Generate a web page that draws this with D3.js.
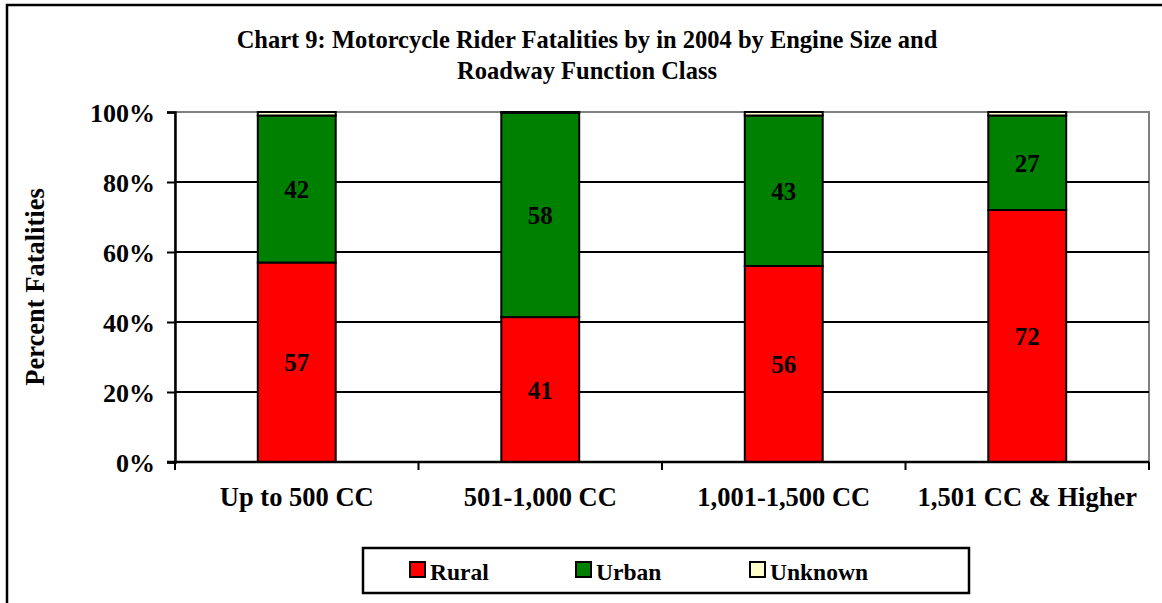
<!DOCTYPE html>
<html>
<head>
<meta charset="utf-8">
<script src="https://cdn.jsdelivr.net/npm/d3@7"></script>
<style>
  body { margin: 0; background: #fff; }
  text { font-family: "Liberation Serif", "Times New Roman", serif; font-weight: bold; }
</style>
</head>
<body>
<div id="chart"></div>
<script>
var categories = ["Up to 500 CC", "501-1,000 CC", "1,001-1,500 CC", "1,501 CC & Higher"];
var rural = [57, 41.4, 56, 72];
var urban = [42, 58.4, 43, 27];
var unknown = [1, 0.2, 1, 1];
var ruralLabels = ["57", "41", "56", "72"];
var urbanLabels = ["42", "58", "43", "27"];
var seriesNames = ["Rural", "Urban", "Unknown"];
var seriesColors = ["#ff0000", "#008000", "#ffffcc"];
var yTicks = [0, 0.2, 0.4, 0.6, 0.8, 1];

var width = 1162, height = 603;
var margin = {top: 112, right: 13, bottom: 141, left: 175};

var svg = d3.select("#chart").append("svg")
  .attr("width", width)
  .attr("height", height);

// outer frame (runs off the right/bottom edge like the original)
svg.append("rect")
  .attr("x", 7).attr("y", 5)
  .attr("width", 1170).attr("height", 620)
  .attr("fill", "none").attr("stroke", "#000").attr("stroke-width", 2.5);

svg.append("text")
  .attr("x", 587).attr("y", 48)
  .attr("text-anchor", "middle").style("font-size", "24.5px")
  .text("Chart 9: Motorcycle Rider Fatalities by in 2004 by Engine Size and");
svg.append("text")
  .attr("x", 587).attr("y", 79)
  .attr("text-anchor", "middle").style("font-size", "24.5px")
  .text("Roadway Function Class");

var x = d3.scaleBand()
  .domain(categories)
  .range([margin.left, width - margin.right])
  .paddingInner(0.68).paddingOuter(0.34);

var y = d3.scaleLinear()
  .domain([0, 1])
  .range([height - margin.bottom, margin.top]);

var g = svg.append("g");

// plot area border (grey)
g.append("rect")
  .attr("x", margin.left).attr("y", margin.top)
  .attr("width", width - margin.right - margin.left)
  .attr("height", y(0) - y(1))
  .attr("fill", "none").attr("stroke", "#808080").attr("stroke-width", 2);

// gridlines
g.selectAll(".grid")
  .data(yTicks.filter(function(d) { return d > 0 && d < 1; }))
  .enter().append("line")
  .attr("x1", margin.left).attr("x2", width - margin.right)
  .attr("y1", function(d) { return y(d); })
  .attr("y2", function(d) { return y(d); })
  .attr("stroke", "#000").attr("stroke-width", 2);

// stacked data
var rows = categories.map(function(c, i) {
  return {cat: c, Rural: rural[i] / 100, Urban: urban[i] / 100, Unknown: unknown[i] / 100};
});
var stack = d3.stack().keys(seriesNames)(rows);

stack.forEach(function(layer, si) {
  g.selectAll(".bar" + si)
    .data(layer)
    .enter().append("rect")
    .attr("x", function(d) { return x(d.data.cat); })
    .attr("y", function(d) { return y(d[1]); })
    .attr("width", x.bandwidth())
    .attr("height", function(d) { return y(d[0]) - y(d[1]); })
    .attr("fill", seriesColors[si])
    .attr("stroke", "#000").attr("stroke-width", 2);
});

// value labels
var labelSets = [ruralLabels, urbanLabels];
labelSets.forEach(function(labels, si) {
  g.selectAll(".lab" + si)
    .data(stack[si])
    .enter().append("text")
    .attr("x", function(d) { return x(d.data.cat) + x.bandwidth() / 2; })
    .attr("y", function(d) { return (y(d[0]) + y(d[1])) / 2 + 9; })
    .attr("text-anchor", "middle")
    .style("font-size", "25px")
    .text(function(d, i) { return labels[i]; });
});

// y axis
var yAxis = d3.axisLeft(y).tickValues(yTicks).tickFormat(d3.format(".0%")).tickSize(8).tickPadding(12);
var ya = svg.append("g").attr("transform", "translate(" + margin.left + ",0)").call(yAxis);
ya.select(".domain").attr("stroke", "#000").attr("stroke-width", 2.5);
ya.selectAll(".tick line").attr("stroke", "#000").attr("stroke-width", 2);
ya.selectAll("text").attr("fill", "#000").attr("dy", "0.35em")
  .style("font-size", "26px").style("font-family", "Liberation Serif").style("font-weight", "bold");

// x axis with ticks at category boundaries
var xa = svg.append("g").attr("transform", "translate(0," + y(0) + ")");
xa.append("line")
  .attr("x1", margin.left - 8).attr("x2", width - margin.right)
  .attr("stroke", "#000").attr("stroke-width", 2.5);
var step = x.step();
var bounds = d3.range(categories.length + 1).map(function(i) { return margin.left + i * step; });
xa.selectAll(".xt").data(bounds).enter().append("line")
  .attr("x1", function(d) { return d; }).attr("x2", function(d) { return d; })
  .attr("y1", 0).attr("y2", 8)
  .attr("stroke", "#000").attr("stroke-width", 2);
xa.selectAll(".xl").data(categories).enter().append("text")
  .attr("x", function(d) { return x(d) + x.bandwidth() / 2; })
  .attr("y", 44)
  .attr("text-anchor", "middle")
  .style("font-size", "26.5px")
  .text(function(d) { return d; });

// y axis title
svg.append("text")
  .attr("transform", "translate(44," + ((y(0) + y(1)) / 2) + ") rotate(-90)")
  .attr("text-anchor", "middle")
  .style("font-size", "26.5px")
  .text("Percent Fatalities");

// legend
var legend = svg.append("g");
legend.append("rect")
  .attr("x", 363).attr("y", 548).attr("width", 606).attr("height", 45)
  .attr("fill", "#fff").attr("stroke", "#000").attr("stroke-width", 2.5);
var legendX = [410, 576, 750];
seriesNames.forEach(function(name, i) {
  legend.append("rect")
    .attr("x", legendX[i]).attr("y", 562).attr("width", 15).attr("height", 15)
    .attr("fill", seriesColors[i]).attr("stroke", "#000").attr("stroke-width", 2);
  legend.append("text")
    .attr("x", legendX[i] + 20).attr("y", 580)
    .style("font-size", "23.5px")
    .text(name);
});
</script>
</body>
</html>
